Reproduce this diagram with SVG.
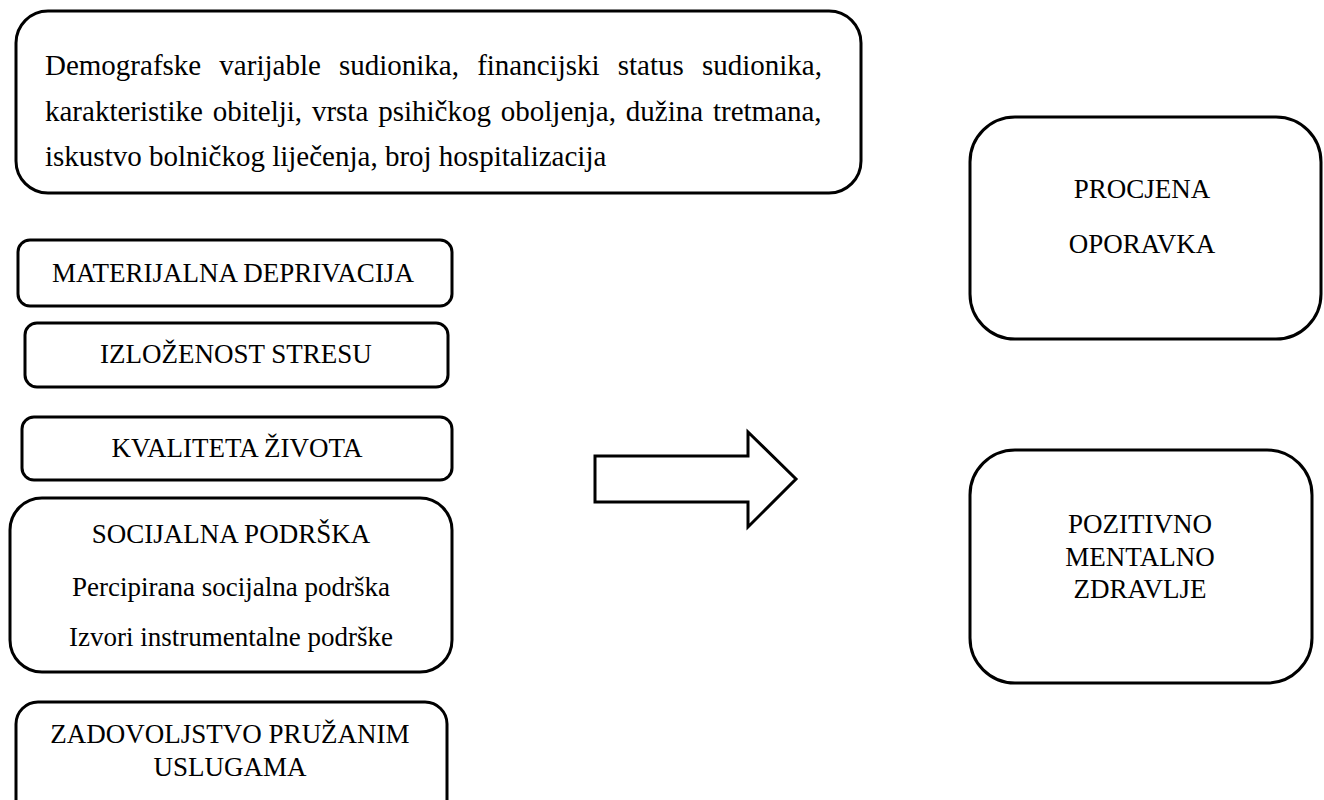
<svg xmlns="http://www.w3.org/2000/svg" width="1324" height="800" viewBox="0 0 1324 800">
<style>
.box{fill:#fff;stroke:#000;stroke-width:3}
text{font-family:"Liberation Serif","Times New Roman",serif;font-size:27px;fill:#000}
.big{font-size:29px}
.c{text-anchor:middle}
</style>
<rect width="1324" height="800" fill="#fff"/>
<g id="n-demo">
<rect class="box" x="16" y="11" width="845" height="182" rx="32"/>
<text class="big" x="45" y="75" word-spacing="10.9">Demografske varijable sudionika, financijski status sudionika,</text>
<text class="big" x="45" y="121" word-spacing="2.6">karakteristike obitelji, vrsta psihičkog oboljenja, dužina tretmana,</text>
<text class="big" x="45" y="166">iskustvo bolničkog liječenja, broj hospitalizacija</text>
</g>
<g id="n-mat">
<rect class="box" x="18" y="240" width="434" height="66" rx="12"/>
<text class="c" x="233" y="282">MATERIJALNA DEPRIVACIJA</text>
</g>
<g id="n-stres">
<rect class="box" x="25" y="323" width="423" height="64" rx="12"/>
<text class="c" x="236" y="363">IZLOŽENOST STRESU</text>
</g>
<g id="n-kval">
<rect class="box" x="22" y="417" width="430" height="63" rx="12"/>
<text class="c" x="237" y="457">KVALITETA ŽIVOTA</text>
</g>
<g id="n-soc">
<rect class="box" x="10" y="498" width="442" height="174" rx="32"/>
<text class="c" x="231" y="543">SOCIJALNA PODRŠKA</text>
<text class="c" x="231" y="596">Percipirana socijalna podrška</text>
<text class="c" x="231" y="646">Izvori instrumentalne podrške</text>
</g>
<g id="n-zad">
<rect class="box" x="16" y="702" width="431" height="120" rx="22"/>
<text class="c" x="230" y="743">ZADOVOLJSTVO PRUŽANIM</text>
<text class="c" x="230" y="776">USLUGAMA</text>
</g>
<g id="n-proc">
<rect class="box" x="970" y="117" width="351" height="222" rx="45"/>
<text class="c" x="1142" y="198">PROCJENA</text>
<text class="c" x="1142" y="253">OPORAVKA</text>
</g>
<g id="n-poz">
<rect class="box" x="970" y="450" width="342" height="233" rx="45"/>
<text class="c" x="1140" y="533">POZITIVNO</text>
<text class="c" x="1140" y="566">MENTALNO</text>
<text class="c" x="1140" y="598">ZDRAVLJE</text>
</g>
<g id="connectors">
<polygon points="595,456 748,456 748,432 796,479 748,527 748,502 595,502" fill="#fff" stroke="#000" stroke-width="3" stroke-linejoin="miter"/>
</g>
</svg>
